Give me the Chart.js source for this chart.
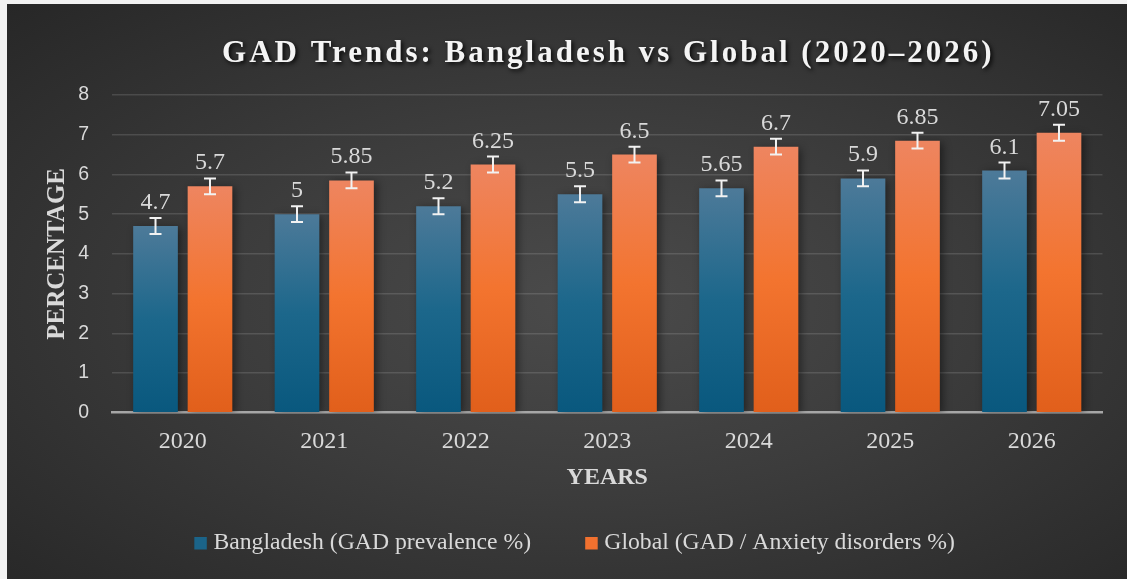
<!DOCTYPE html>
<html>
<head>
<meta charset="utf-8">
<title>GAD Trends</title>
<script src="https://cdn.jsdelivr.net/npm/chart.js@4.4.1/dist/chart.umd.min.js"></script>
<style>
  html, body { margin: 0; padding: 0; background: #f2f2f2; }
  #wrap {
    position: absolute; left: 7px; top: 4px; width: 1120px; height: 575px;
    background: radial-gradient(ellipse at 52% 52%, #4b4b4b 0%, #3c3c3c 45%, #272727 100%);
  }
  canvas { display: block; }
</style>
</head>
<body>
<div id="wrap"><canvas id="gadChart"></canvas></div>
<script>
const years = ['2020', '2021', '2022', '2023', '2024', '2025', '2026'];
const bangladesh = [4.7, 5, 5.2, 5.5, 5.65, 5.9, 6.1];
const globalRates = [5.7, 5.85, 6.25, 6.5, 6.7, 6.85, 7.05];
const bangladeshErr = [0.2, 0.2, 0.2, 0.2, 0.2, 0.2, 0.2];
const globalErr = [0.2, 0.2, 0.2, 0.2, 0.2, 0.2, 0.2];
const seriesNames = ['Bangladesh (GAD prevalence %)', 'Global (GAD / Anxiety disorders %)'];
const chartTitle = 'GAD Trends: Bangladesh vs Global (2020–2026)';

const SERIF = '"Liberation Serif", "Times New Roman", serif';
const SANS = '"Liberation Sans", Arial, sans-serif';
const blueStops = [[0, '#4d7a99'], [0.5, '#1c678b'], [1, '#09587e']];
const orangeStops = [[0, '#ee8560'], [0.5, '#f3742f'], [1, '#e15f1b']];
const legendColors = ['#1b6489', '#f1712f'];

// vertical gradient per bar, from its top down to zero
function barFill(stops) {
    return (c) => {
        const chart = c.chart;
        const yScale = chart.scales.y;
        if (!chart.chartArea || !yScale || !c.parsed) return stops[1][1];
        const top = yScale.getPixelForValue(c.parsed.y);
        const base = yScale.getPixelForValue(0);
        if (!isFinite(top) || !isFinite(base) || top === base) return stops[1][1];
        const g = chart.ctx.createLinearGradient(0, top, 0, base);
        stops.forEach(s => g.addColorStop(s[0], s[1]));
        return g;
    };
}

const titlePlugin = {
    id: 'wordTitle',
    beforeDraw(chart) {
        const { ctx, chartArea } = chart;
        ctx.save();
        ctx.font = 'bold 31px ' + SERIF;
        ctx.letterSpacing = '3px';
        ctx.textAlign = 'center';
        ctx.textBaseline = 'alphabetic';
        ctx.shadowColor = 'rgba(0,0,0,0.85)';
        ctx.shadowBlur = 4;
        ctx.shadowOffsetX = 2;
        ctx.shadowOffsetY = 2;
        ctx.fillStyle = '#f4f4f4';
        ctx.fillText(chartTitle, (chartArea.left + chartArea.right) / 2 + 1, 58);
        ctx.restore();
    }
};

const barExtras = {
    id: 'barExtras',
    afterLayout(chart) {
        // nudge legend to the right like the original
        if (chart.legend) {
            chart.legend.left += 10;
            chart.legend.right += 10;
        }
    },
    beforeDatasetsDraw(chart) {
        const ctx = chart.ctx;
        ctx.save();
        ctx.shadowColor = 'rgba(0,0,0,0.45)';
        ctx.shadowBlur = 8;
        ctx.shadowOffsetX = 3;
        ctx.shadowOffsetY = 2;
    },
    afterDatasetsDraw(chart) {
        const ctx = chart.ctx;
        ctx.restore();
        const yScale = chart.scales.y;
        const errs = [bangladeshErr, globalErr];
        chart.data.datasets.forEach((ds, di) => {
            const meta = chart.getDatasetMeta(di);
            meta.data.forEach((bar, i) => {
                const v = ds.data[i];
                const e = errs[di][i];
                const yTop = yScale.getPixelForValue(v + e);
                const yBot = yScale.getPixelForValue(v - e);
                ctx.save();
                ctx.strokeStyle = '#f2f2f2';
                ctx.lineWidth = 2;
                ctx.beginPath();
                ctx.moveTo(bar.x, yTop);
                ctx.lineTo(bar.x, yBot);
                ctx.moveTo(bar.x - 6, yTop);
                ctx.lineTo(bar.x + 6, yTop);
                ctx.moveTo(bar.x - 6, yBot);
                ctx.lineTo(bar.x + 6, yBot);
                ctx.stroke();
                ctx.fillStyle = '#d9d9d9';
                ctx.font = '24px ' + SERIF;
                ctx.textAlign = 'center';
                ctx.textBaseline = 'alphabetic';
                ctx.fillText(String(v), bar.x, yTop - 9);
                ctx.restore();
            });
        });
    }
};

function initChart() {
    const ctx = document.getElementById('gadChart').getContext('2d');
    new Chart(ctx, {
        type: 'bar',
        data: {
            labels: years,
            datasets: [{
                label: seriesNames[0],
                data: bangladesh,
                backgroundColor: barFill(blueStops),
                categoryPercentage: 0.77,
                barPercentage: 0.82
            }, {
                label: seriesNames[1],
                data: globalRates,
                backgroundColor: barFill(orangeStops),
                categoryPercentage: 0.77,
                barPercentage: 0.82
            }]
        },
        options: {
            responsive: true,
            maintainAspectRatio: false,
            animation: false,
            layout: { padding: { top: 91, left: 25, right: 24.5, bottom: 14 } },
            plugins: {
                title: { display: false },
                tooltip: { enabled: false },
                legend: {
                    position: 'bottom',
                    labels: {
                        color: '#d9d9d9',
                        font: { family: SERIF, size: 23.7 },
                        usePointStyle: true,
                        boxWidth: 2,
                        boxHeight: 12.5,
                        padding: 12,
                        generateLabels(chart) {
                            const items = Chart.defaults.plugins.legend.labels.generateLabels(chart);
                            items.forEach((it, i) => {
                                it.fillStyle = legendColors[i];
                                it.strokeStyle = legendColors[i];
                                it.lineWidth = 0;
                                it.pointStyle = 'rect';
                            });
                            items[0].text += '\u00a0'.repeat(8);
                            return items;
                        }
                    }
                }
            },
            scales: {
                x: {
                    grid: { display: false, drawTicks: false },
                    border: { display: true, color: '#a6a6a6', width: 2.5 },
                    ticks: { color: '#d9d9d9', font: { family: SERIF, size: 24 }, padding: 15 },
                    title: {
                        display: true, text: 'YEARS', color: '#d9d9d9',
                        font: { family: SERIF, size: 24, weight: 'bold' },
                        padding: { top: 8, bottom: 27 }
                    },
                    afterFit(scale) { scale.height -= 16; }
                },
                y: {
                    min: 0,
                    max: 8,
                    ticks: { stepSize: 1, color: '#d9d9d9', font: { family: SANS, size: 19.5 }, padding: 23 },
                    grid: {
                        color: c => c.tick.value === 0 ? 'rgba(0,0,0,0)' : 'rgba(255,255,255,0.13)',
                        lineWidth: 1.5,
                        drawTicks: false
                    },
                    border: { display: false },
                    title: {
                        display: true, text: 'PERCENTAGE', color: '#d9d9d9',
                        font: { family: SERIF, size: 25, weight: 'bold' },
                        padding: { top: 11, bottom: 8 }
                    },
                    afterFit(scale) { scale.width = 80; }
                }
            }
        },
        plugins: [titlePlugin, barExtras]
    });
}

document.addEventListener('DOMContentLoaded', initChart);
</script>
</body>
</html>
